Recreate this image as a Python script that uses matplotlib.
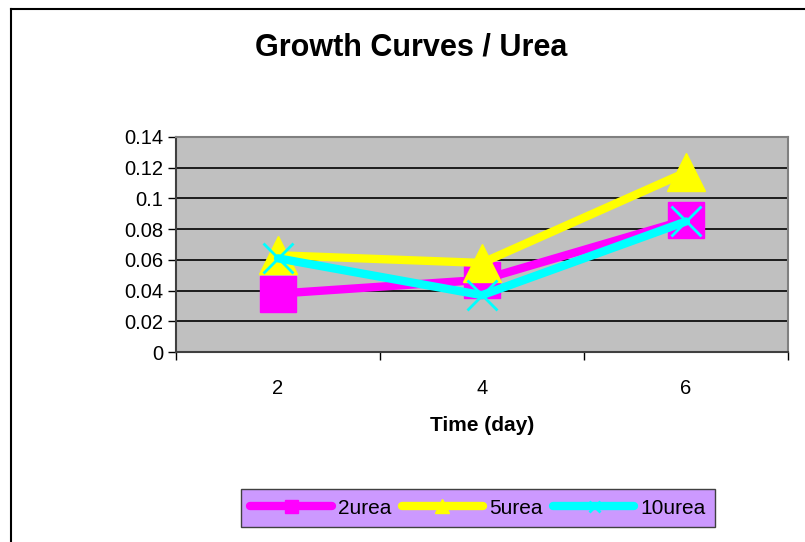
import matplotlib.pyplot as plt
from matplotlib.lines import Line2D

# data
days = ["2", "4", "6"]
urea_2 = [0.038, 0.047, 0.086]
urea_5 = [0.063, 0.058, 0.117]
urea_10 = [0.061, 0.037, 0.085]
y_ticks = [0, 0.02, 0.04, 0.06, 0.08, 0.1, 0.12, 0.14]
y_labels = ["0", "0.02", "0.04", "0.06", "0.08", "0.1", "0.12", "0.14"]

W, H = 805, 542
fig = plt.figure(figsize=(W / 100, H / 100), dpi=100)
plt.rcParams['font.family'] = ['Liberation Sans', 'DejaVu Sans']

# outer chart border (left and top visible)
fig.add_artist(Line2D([11 / W, 11 / W], [0, 1 - 9 / H], color='black', lw=1.5,
                      transform=fig.transFigure))
fig.add_artist(Line2D([11 / W, 1], [1 - 9 / H, 1 - 9 / H], color='black', lw=1.5,
                      transform=fig.transFigure))

ax = fig.add_axes([176 / W, (H - 352) / H, 612 / W, 215 / H])
ax.set_facecolor('#c0c0c0')
for s in ax.spines.values():
    s.set_color('#808080')
    s.set_linewidth(1.5)
ax.spines['left'].set_color('#404040')
ax.spines['bottom'].set_color('#404040')

x = range(len(days))
line_kw = dict(lw=6, solid_capstyle='round', solid_joinstyle='round')
ax.plot(x, urea_2, color='#ff00ff', marker='s', ms=26, mec='#ff00ff',
        label='2urea', zorder=3, **line_kw)
ax.plot(x, urea_5, color='#ffff00', marker='^', ms=27, mec='#ffff00',
        label='5urea', zorder=4, **line_kw)
ax.plot(x, urea_10, color='#00ffff', marker='x', ms=22, mew=2,
        label='10urea', zorder=5, **line_kw)

ax.set_xlim(-0.5, 2.5)
ax.set_ylim(0, 0.14)
ax.set_yticks(y_ticks)
ax.set_yticklabels(y_labels, fontsize=14.5)
ax.yaxis.grid(True, color='black', lw=1.2)
ax.set_axisbelow(True)
ax.tick_params(axis='y', direction='out', length=6, width=1, pad=3)

ax.set_xticks(list(x))
ax.set_xticklabels(days, fontsize=14.5)
ax.set_xticks([-0.5, 0.5, 1.5, 2.5], minor=True)
ax.tick_params(axis='x', which='major', length=0, pad=19.5)
ax.tick_params(axis='x', which='minor', direction='out', length=6, width=1)
ax.set_xlabel('Time (day)', fontsize=15, fontweight='bold', labelpad=13)

fig.text(411 / W, 1 - 47 / H, 'Growth Curves / Urea', fontsize=22,
         fontweight='bold', ha='center', va='center')

leg = fig.legend(loc='center', bbox_to_anchor=(478 / W, 1 - 508 / H), ncol=3,
                 fontsize=15, markerscale=0.36, handlelength=3.9,
                 handletextpad=0.3, columnspacing=0.5, frameon=True,
                 fancybox=False, borderpad=0.45, borderaxespad=0)
leg.get_frame().set_facecolor('#cc99ff')
leg.get_frame().set_edgecolor('#404040')
leg.get_frame().set_alpha(1)

fig.savefig('out.png', dpi=100)
